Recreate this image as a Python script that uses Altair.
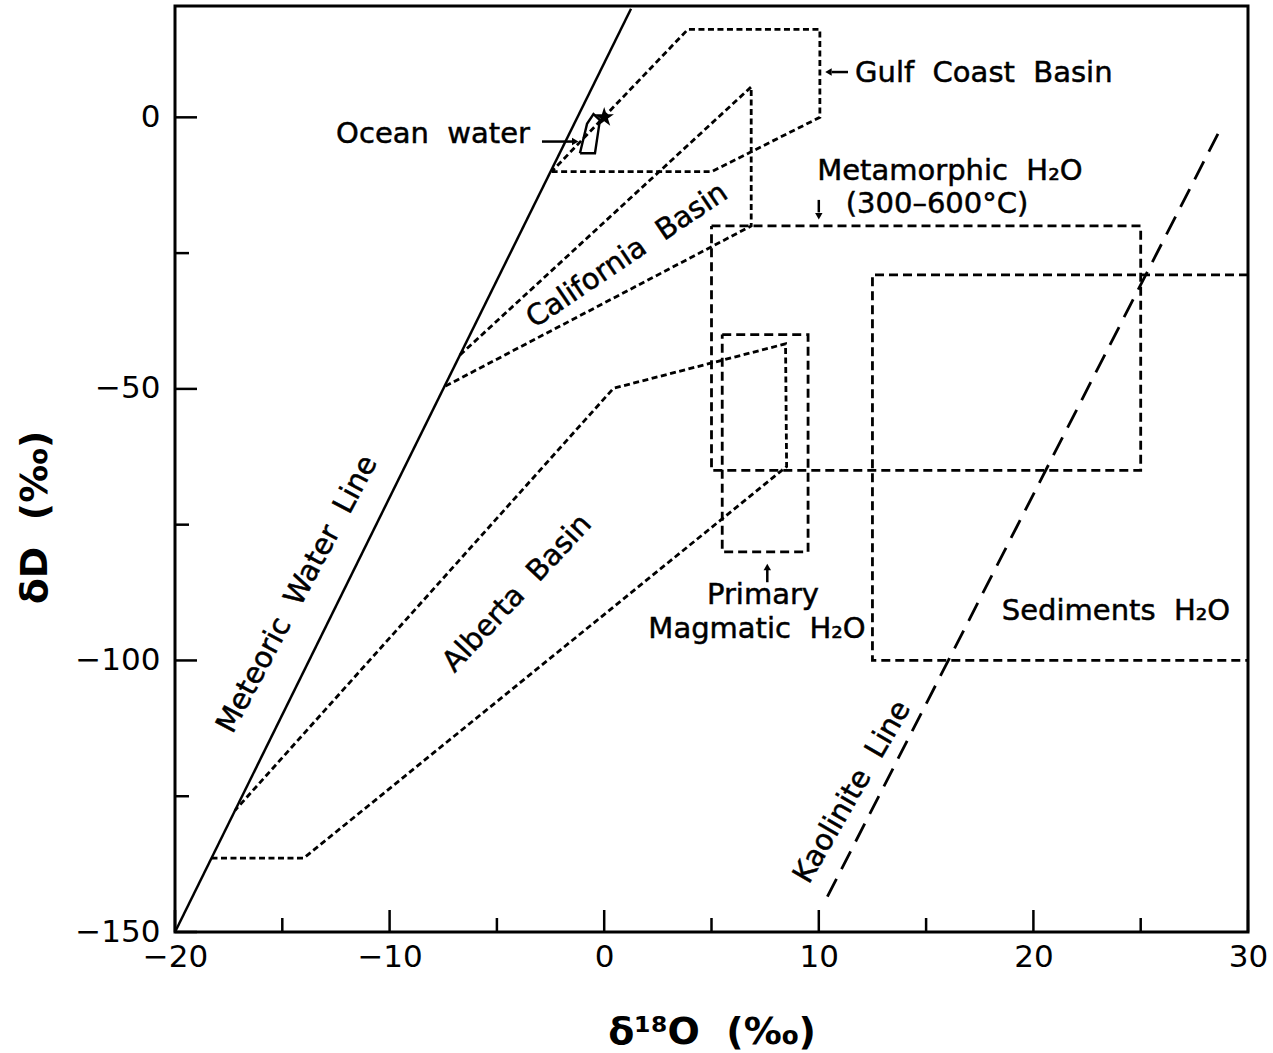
import altair as alt
import pandas as pd

# Plot area size (pixels) and axis extents
W, H = 1073, 926
X_DOMAIN = [-20, 30]
Y_DOMAIN = [-150, 20.5]
FONT = "DejaVu Sans"

# Tick positions
x_major = [-20, -10, 0, 10, 20, 30]
x_minor = [-15, -5, 5, 15, 25]
y_major = [0, -50, -100, -150]
y_minor = [-25, -75, -125]

# Reference lines
meteoric_x = [-20, 1.25]
meteoric_y = [-150, 20]
kaolinite_x = [10.4, 28.8]
kaolinite_y = [-143.5, -1.5]

# Basin fields (polygon vertices)
gulf_x = [-2.45, 5.0, 10.05, 10.05, 3.9, -2.45]
gulf_y = [-10, -10, 0, 16.2, 16.2, -10]
california_x = [-6.72, 6.85, 6.85, -7.45]
california_y = [-43.76, 5.6, -20, -49.6]
alberta_x = [-18.3, -14.0, 8.5, 8.45, 0.43, -17.2]
alberta_y = [-136.4, -136.4, -64.3, -41.7, -49.9, -127.6]

# Water-type boxes
magmatic_x = [5.5, 9.5, 9.5, 5.5, 5.5]
magmatic_y = [-40, -40, -80, -80, -40]
metamorphic_x = [5, 25, 25, 5, 5]
metamorphic_y = [-20, -20, -65, -65, -20]
sediments_x = [30, 12.5, 12.5, 30]
sediments_y = [-29, -29, -100, -100]

# Ocean water field and SMOW point
ocean_x = [-1.13, -0.43, -0.2, -0.5, -0.8, -1.13]
ocean_y = [-6.6, -6.6, -0.5, 0.6, -1.2, -6.6]
smow_x = [0]
smow_y = [0]

# Pointer arrows: shaft start/end, head position and head shape
arrow_x1 = [-2.9, 11.36, 10.0, 7.6]
arrow_x2 = [-1.5, 10.6, 10.0, 7.6]
arrow_y1 = [-4.46, 8.34, -15.2, -85.6]
arrow_y2 = [-4.46, 8.34, -17.5, -83.3]
head_x = [-1.35, 10.45, 10.0, 7.6]
head_y = [-4.46, 8.34, -18.2, -82.8]
head_shape = ["triangle-right", "triangle-left", "triangle-down", "triangle-up"]

NB = "\u00a0 "
# Labels: text, x, y, angle, align, baseline
label_text = [
    "Meteoric" + NB + "Water" + NB + "Line",
    "Alberta" + NB + "Basin",
    "California" + NB + "Basin",
    "Kaolinite" + NB + "Line",
    "Ocean" + NB + "water",
    "Gulf" + NB + "Coast" + NB + "Basin",
    "Metamorphic" + NB + "H₂O",
    "(300–600°C)",
    "Primary",
    "Magmatic" + NB + "H₂O",
    "Sediments" + NB + "H₂O",
]
label_x = [-14.31, -4.06, 1.06, 11.55, -3.46, 11.69, 16.11, 15.51, 7.4, 7.12, 23.85]
label_y = [-87.8, -87.6, -25.4, -124.2, -4.73, 6.5, -11.6, -17.6, -89.6, -95.8, -92.5]
label_angle = [298, 313, 326, 300, 0, 0, 0, 0, 0, 0, 0]
label_align = ["center", "center", "center", "center", "right", "left",
               "center", "center", "center", "center", "center"]
label_baseline = ["middle", "middle", "middle", "middle", "alphabetic", "alphabetic",
                  "alphabetic", "alphabetic", "alphabetic", "alphabetic", "alphabetic"]

STAR = ("M0,-1L0.2245,-0.309L0.951,-0.309L0.363,0.118L0.588,0.809L0,0.382"
        "L-0.588,0.809L-0.363,0.118L-0.951,-0.309L-0.2245,-0.309Z")

x_scale = alt.Scale(domain=X_DOMAIN, nice=False, zero=False)
y_scale = alt.Scale(domain=Y_DOMAIN, nice=False, zero=False)

x_axis = alt.Axis(
    values=x_major, ticks=False, tickSize=0, domain=False, grid=False,
    labelFont=FONT, labelFontSize=31, labelColor="black", labelPadding=10,
    labelFlush=False, labelOverlap=False,
    title="δ¹⁸O\u00a0 (‰)", titleFont=FONT, titleFontSize=38, titleFontWeight="bold",
    titleColor="black", titleY=100, titleBaseline="middle",
)
y_axis = alt.Axis(
    values=y_major, ticks=False, tickSize=0, domain=False, grid=False,
    labelFont=FONT, labelFontSize=31, labelColor="black", labelPadding=15,
    labelOverlap=False,
    title="δD\u00a0 (‰)", titleFont=FONT, titleFontSize=38, titleFontWeight="bold",
    titleColor="black", titleAngle=270, titleX=-140, titleY=511,
    titleAlign="center", titleBaseline="middle",
)


def X(field="x"):
    return alt.X(f"{field}:Q", scale=x_scale, axis=x_axis)


def Y(field="y"):
    return alt.Y(f"{field}:Q", scale=y_scale, axis=y_axis)


def path(xs, ys, dash=None, width=2.8):
    df = pd.DataFrame({"x": xs, "y": ys, "i": list(range(len(xs)))})
    kw = dict(color="black", strokeWidth=width, clip=True)
    if dash:
        kw["strokeDash"] = dash
    return alt.Chart(df).mark_line(**kw).encode(x=X(), y=Y(), order="i:Q")


layers = []

# Lines and fields
layers.append(path(meteoric_x, meteoric_y, width=2.5))
layers.append(path(kaolinite_x, kaolinite_y, dash=[20, 11], width=2.8))
for xs, ys in [(gulf_x, gulf_y), (california_x, california_y), (alberta_x, alberta_y)]:
    layers.append(path(xs, ys, dash=[6, 3.5], width=2.8))
for xs, ys in [(magmatic_x, magmatic_y), (metamorphic_x, metamorphic_y),
               (sediments_x, sediments_y)]:
    layers.append(path(xs, ys, dash=[9, 5], width=2.8))
layers.append(path(ocean_x, ocean_y, width=2.4))

# SMOW star
layers.append(
    alt.Chart(pd.DataFrame({"x": smow_x, "y": smow_y}))
    .mark_point(shape=STAR, filled=True, color="black", size=420, opacity=1)
    .encode(x=X(), y=Y())
)

# Arrows
arrows = pd.DataFrame({"x": arrow_x1, "x2": arrow_x2, "y": arrow_y1, "y2": arrow_y2})
layers.append(
    alt.Chart(arrows).mark_rule(color="black", strokeWidth=2.5)
    .encode(x=X(), x2="x2:Q", y=Y(), y2="y2:Q")
)
for hx, hy, hs in zip(head_x, head_y, head_shape):
    layers.append(
        alt.Chart(pd.DataFrame({"x": [hx], "y": [hy]}))
        .mark_point(shape=hs, filled=True, color="black", size=55, opacity=1)
        .encode(x=X(), y=Y())
    )

# Inward ticks
for vals, length in [(x_major, 22), (x_minor, 14)]:
    layers.append(
        alt.Chart(pd.DataFrame({"x": vals})).mark_rule(color="black", strokeWidth=2.5)
        .encode(x=X(), y=alt.value(H), y2=alt.value(H - length))
    )
for vals, length in [(y_major, 22), (y_minor, 14)]:
    layers.append(
        alt.Chart(pd.DataFrame({"y": vals})).mark_rule(color="black", strokeWidth=2.5)
        .encode(y=Y(), x=alt.value(0), x2=alt.value(length))
    )

# Text labels
for t, lx, ly, ang, al, bl in zip(label_text, label_x, label_y, label_angle,
                                  label_align, label_baseline):
    kw = dict(font=FONT, fontSize=29, color="black", align=al, baseline=bl,
              stroke="black", strokeWidth=0.5)
    if ang:
        kw["angle"] = ang
    layers.append(
        alt.Chart(pd.DataFrame({"x": [lx], "y": [ly], "t": [t]}))
        .mark_text(**kw)
        .encode(x=X(), y=Y(), text="t:N")
    )

chart = (
    alt.layer(*layers)
    .properties(
        width=W, height=H,
        autosize=alt.AutoSizeParams(type="none"),
        padding={"left": 175, "top": 6, "right": 25, "bottom": 121},
        background="white",
    )
    .configure_view(stroke="black", strokeWidth=3)
)

chart.save("out.html", embed_options={"renderer": "svg", "actions": False})
